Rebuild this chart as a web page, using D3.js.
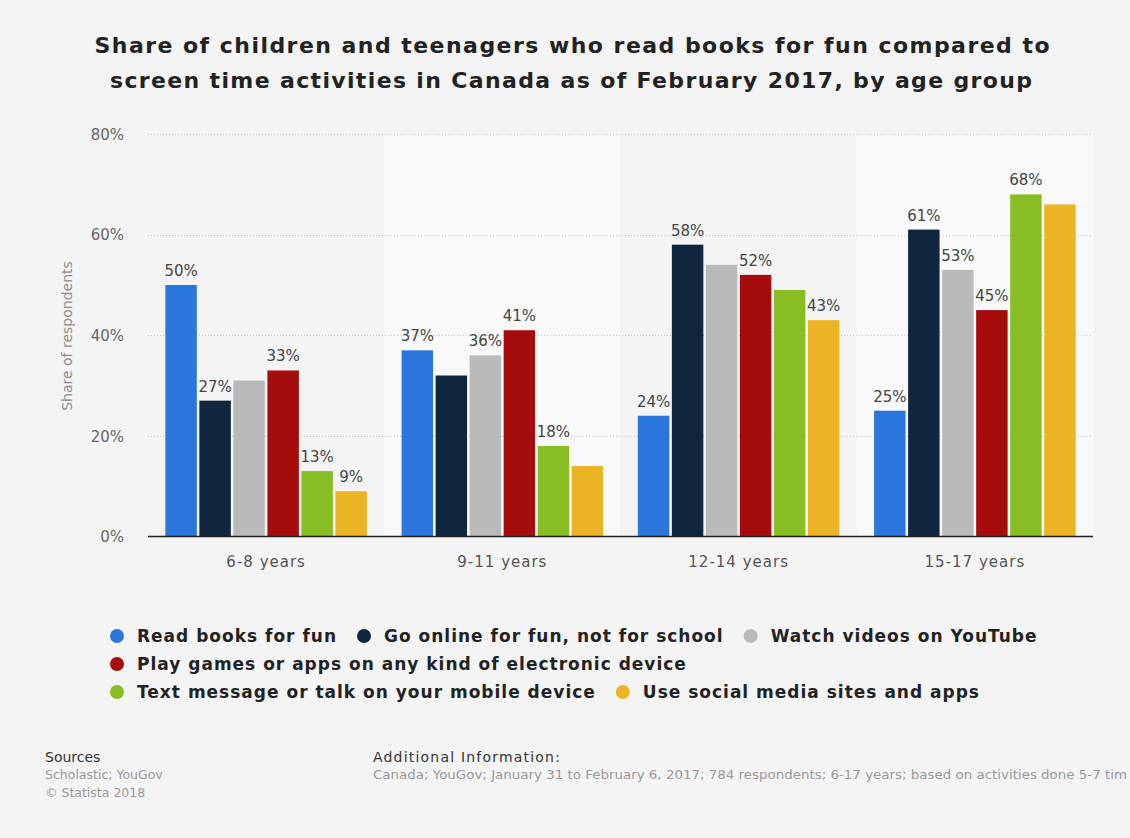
<!DOCTYPE html>
<html>
<head>
<meta charset="utf-8">
<script src="https://cdn.jsdelivr.net/npm/d3@7"></script>
<style>
  html, body { margin: 0; padding: 0; background: #f4f4f4; }
  svg { display: block; }
  text { font-family: "DejaVu Sans", sans-serif; }
</style>
</head>
<body>
<svg id="chart" width="1130" height="838"></svg>
<script>
// Age groups on the x axis
const ageGroups = ["6-8 years", "9-11 years", "12-14 years", "15-17 years"];

// Activity series
const seriesNames = [
  "Read books for fun",
  "Go online for fun, not for school",
  "Watch videos on YouTube",
  "Play games or apps on any kind of electronic device",
  "Text message or talk on your mobile device",
  "Use social media sites and apps"
];
const seriesColors = ["#2a76dd", "#10263f", "#bababa", "#a50d0d", "#89bd24", "#eab425"];

// Share of respondents (%), one array per activity, ordered by age group
const readBooks   = [50, 37, 24, 25];
const goOnline    = [27, 32, 58, 61];
const watchVideos = [31, 36, 54, 53];
const playGames   = [33, 41, 52, 45];
const textMessage = [13, 18, 49, 68];
const socialMedia = [9, 14, 43, 66];
const seriesValues = [readBooks, goOnline, watchVideos, playGames, textMessage, socialMedia];

// Which value labels are printed (crowded labels are left out), per activity
const labelShown = [
  [true, true, true, true],
  [true, false, true, true],
  [false, true, false, true],
  [true, true, true, true],
  [true, true, false, true],
  [true, false, true, false]
];

const yTicks = [0, 20, 40, 60, 80];

const svg = d3.select("#chart");
const plot = { left: 148, right: 1093, top: 134, bottom: 536.5 };

// Title
const title = svg.append("g").attr("font-weight", "bold").attr("fill", "#222").attr("font-size", 22);
title.append("text").attr("x", 572).attr("y", 53).attr("text-anchor", "middle")
  .attr("textLength", 955).attr("lengthAdjust", "spacing")
  .text("Share of children and teenagers who read books for fun compared to");
title.append("text").attr("x", 571).attr("y", 88).attr("text-anchor", "middle")
  .attr("textLength", 922).attr("lengthAdjust", "spacing")
  .text("screen time activities in Canada as of February 2017, by age group");

// Scales
const x0 = d3.scaleBand().domain(ageGroups).range([plot.left, plot.right]);
const x1 = d3.scaleBand().domain(d3.range(seriesNames.length))
  .range([0, x0.bandwidth()]).paddingInner(0.075).paddingOuter(0.51);
const y = d3.scaleLinear().domain([0, 80]).range([plot.bottom, plot.top]);

// Alternating group bands
svg.append("g").selectAll("rect").data(ageGroups).join("rect")
  .attr("x", d => x0(d)).attr("y", plot.top)
  .attr("width", x0.bandwidth()).attr("height", plot.bottom - plot.top)
  .attr("fill", (d, i) => i % 2 ? "#f9f9f9" : "#f4f4f4");

// Horizontal grid
svg.append("g").selectAll("line").data(yTicks.filter(t => t > 0)).join("line")
  .attr("x1", plot.left).attr("x2", plot.right)
  .attr("y1", d => Math.round(y(d)) + 0.5).attr("y2", d => Math.round(y(d)) + 0.5)
  .attr("stroke", "#c8c8c8").attr("stroke-width", 1).attr("stroke-dasharray", "1,2");

// Y axis tick labels
const yAxis = d3.axisLeft(y).tickValues(yTicks).tickFormat(d => d + "%").tickSize(0).tickPadding(0);
const yG = svg.append("g").attr("transform", `translate(124,0)`).call(yAxis);
yG.select(".domain").remove();
yG.selectAll("text").attr("font-size", 15).attr("fill", "#666")
  .attr("font-family", "DejaVu Sans, sans-serif").attr("dy", "0.35em");

// Y axis title
svg.append("text")
  .attr("transform", "translate(72,336) rotate(-90)")
  .attr("text-anchor", "middle").attr("font-size", 14).attr("fill", "#8c8c8c")
  .text("Share of respondents");

// Bars
const groups = svg.append("g").selectAll("g").data(ageGroups).join("g")
  .attr("transform", d => `translate(${x0(d)},0)`);

const cells = (g, gi) => seriesNames.map((s, si) => ({
  si, gi, value: seriesValues[si][gi], shown: labelShown[si][gi]
}));

groups.selectAll("rect").data((d, gi) => cells(d, gi)).join("rect")
  .attr("x", d => x1(d.si)).attr("width", x1.bandwidth())
  .attr("y", d => y(d.value)).attr("height", d => y(0) - y(d.value))
  .attr("fill", d => seriesColors[d.si]);

groups.selectAll("text.val").data((d, gi) => cells(d, gi).filter(c => c.shown)).join("text")
  .attr("class", "val")
  .attr("x", d => x1(d.si) + x1.bandwidth() / 2)
  .attr("y", d => y(d.value) - 9)
  .attr("text-anchor", "middle").attr("font-size", 15).attr("fill", "#444")
  .text(d => d.value + "%");

// Baseline and category axis
svg.append("line").attr("x1", plot.left).attr("x2", plot.right)
  .attr("y1", plot.bottom).attr("y2", plot.bottom)
  .attr("stroke", "#222").attr("stroke-width", 1.6);

const xAxis = d3.axisBottom(x0).tickSize(0).tickPadding(0);
const xG = svg.append("g").attr("transform", `translate(0,${plot.bottom})`).call(xAxis);
xG.select(".domain").remove();
xG.selectAll("text").attr("font-size", 15).attr("fill", "#555")
  .attr("font-family", "DejaVu Sans, sans-serif").attr("letter-spacing", 1)
  .attr("dy", 0).attr("y", 30);

// Legend (flow layout)
const legend = svg.append("g").attr("font-weight", "bold").attr("font-size", 17)
  .attr("letter-spacing", 1).attr("fill", "#222");
let lx = 110, ly = 636;
const legendMaxX = 1050;
seriesNames.forEach((name, i) => {
  const item = legend.append("g");
  const t = item.append("text").attr("x", 27).attr("y", 0).attr("dy", "0.35em").text(name);
  const w = 27 + t.node().getComputedTextLength();
  if (lx + w > legendMaxX && lx > 110) { lx = 110; ly += 28; }
  item.attr("transform", `translate(${lx},${ly})`);
  item.append("circle").attr("cx", 7).attr("cy", 0).attr("r", 7).attr("fill", seriesColors[i]);
  lx += w + 20;
});

// Footer
const foot = svg.append("g");
foot.append("text").attr("x", 45).attr("y", 762).attr("font-size", 14).attr("fill", "#333").text("Sources");
foot.append("text").attr("x", 45).attr("y", 779).attr("font-size", 12.5).attr("fill", "#999").text("Scholastic; YouGov");
foot.append("text").attr("x", 45).attr("y", 797).attr("font-size", 12.5).attr("fill", "#999").text("© Statista 2018");
foot.append("text").attr("x", 373).attr("y", 762).attr("font-size", 14).attr("letter-spacing", 1.2)
  .attr("fill", "#333").text("Additional Information:");
foot.append("text").attr("x", 373).attr("y", 779).attr("font-size", 12.5).attr("fill", "#999")
  .attr("textLength", 754).attr("lengthAdjust", "spacingAndGlyphs")
  .text("Canada; YouGov; January 31 to February 6, 2017; 784 respondents; 6-17 years; based on activities done 5-7 tim");
</script>
</body>
</html>
